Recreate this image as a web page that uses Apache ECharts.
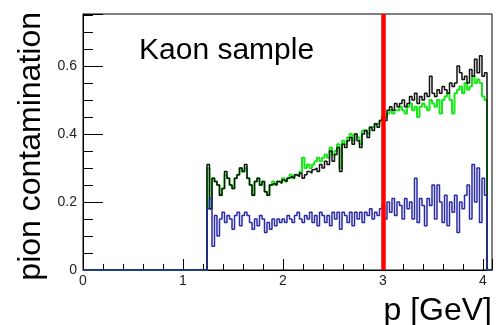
<!DOCTYPE html>
<html><head><meta charset="utf-8">
<script src="https://cdn.jsdelivr.net/npm/echarts@6.0.0/dist/echarts.min.js"></script>
<style>html,body{margin:0;padding:0;background:#fff}#c{width:496px;height:325px}</style>
</head><body><div id="c"></div>
<script>
// Histogram binning (momentum p in GeV)
const binStart = 1.24;
const binWidth = 0.025;
const xMax = 4.09;
const yMax = 0.753;
const cutMomentum = 3;

// black histogram
const blackValues = [
 0.31,0.18,0.27,0.26,0.25,0.22,0.24,0.29,0.27,0.25,
 0.24,0.27,0.28,0.30,0.29,0.31,0.27,0.25,0.22,0.26,
 0.27,0.25,0.26,0.23,0.22,0.25,0.255,0.25,0.26,0.255,
 0.265,0.26,0.27,0.275,0.27,0.28,0.275,0.285,0.27,0.28,
 0.29,0.285,0.295,0.30,0.29,0.31,0.30,0.32,0.31,0.35,
 0.32,0.34,0.36,0.29,0.37,0.36,0.38,0.39,0.37,0.40,
 0.38,0.36,0.40,0.41,0.39,0.42,0.41,0.43,0.42,0.44,
 0.45,0.44,0.47,0.48,0.47,0.49,0.48,0.49,0.50,0.48,
 0.49,0.51,0.50,0.52,0.49,0.51,0.50,0.52,0.51,0.57,
 0.52,0.51,0.53,0.52,0.54,0.53,0.52,0.55,0.54,0.55,
 0.60,0.58,0.56,0.57,0.55,0.59,0.57,0.62,0.58,0.63,
 0.57,0.58
];
// green histogram
const greenValues = [
 0.30,0.18,0.27,0.26,0.25,0.22,0.24,0.28,0.27,0.25,
 0.24,0.27,0.28,0.30,0.29,0.30,0.27,0.25,0.22,0.26,
 0.27,0.25,0.26,0.23,0.22,0.25,0.26,0.25,0.26,0.26,
 0.27,0.26,0.27,0.28,0.27,0.28,0.28,0.29,0.33,0.30,
 0.31,0.30,0.31,0.32,0.33,0.32,0.33,0.34,0.33,0.36,
 0.34,0.35,0.37,0.30,0.38,0.37,0.39,0.40,0.38,0.40,
 0.39,0.37,0.41,0.41,0.40,0.42,0.42,0.43,0.43,0.44,
 0.45,0.45,0.46,0.47,0.46,0.47,0.47,0.48,0.47,0.46,
 0.48,0.49,0.47,0.48,0.45,0.48,0.49,0.48,0.47,0.50,
 0.49,0.48,0.50,0.46,0.50,0.51,0.52,0.50,0.46,0.52,
 0.53,0.54,0.52,0.55,0.53,0.54,0.57,0.55,0.56,0.55,
 0.51,0.50
];
// blue histogram
const blueValues = [
 0.18,0.21,0.07,0.16,0.10,0.15,0.17,0.14,0.16,0.15,
 0.12,0.16,0.17,0.13,0.16,0.17,0.16,0.14,0.12,0.15,
 0.13,0.16,0.15,0.11,0.14,0.12,0.15,0.13,0.15,0.14,
 0.15,0.14,0.16,0.15,0.14,0.16,0.17,0.15,0.14,0.16,
 0.15,0.17,0.14,0.16,0.13,0.17,0.16,0.14,0.16,0.13,
 0.17,0.15,0.17,0.12,0.17,0.16,0.14,0.17,0.13,0.17,
 0.15,0.17,0.14,0.17,0.16,0.18,0.15,0.17,0.16,0.18,
 0.19,0.15,0.20,0.17,0.21,0.16,0.20,0.19,0.15,0.21,
 0.18,0.20,0.15,0.27,0.14,0.21,0.19,0.13,0.21,0.19,
 0.25,0.15,0.25,0.20,0.14,0.22,0.13,0.20,0.17,0.22,
 0.11,0.20,0.18,0.22,0.25,0.15,0.31,0.20,0.30,0.14,
 0.27,0.22
];
const xTickLabels = ['0','1','2','3','4'];
const yTickLabels = ['0','0.2','0.4','0.6'];

function stepPoints(vals) {
  const pts = [[0, 0], [binStart, 0]];
  vals.forEach((v, i) => {
    const lo = binStart + i * binWidth;
    pts.push([lo, v], [lo + binWidth, v]);
  });
  const end = binStart + vals.length * binWidth;
  pts.push([end, 0], [xMax, 0]);
  return pts;
}

const FONT = '"Liberation Sans", Arial, sans-serif';
const chart = echarts.init(document.getElementById('c'), null, {renderer: 'canvas'});
const isMult = (v, step) => Math.abs(v / step - Math.round(v / step)) < 1e-6;

chart.setOption({
  animation: false,
  backgroundColor: '#fff',
  grid: {left: 83, right: 4, top: 14, bottom: 55, show: true, borderColor: '#000', borderWidth: 1, backgroundColor: 'transparent'},
  xAxis: [
    {type: 'value', min: 0, max: xMax, interval: 0.2, position: 'bottom',
     axisLine: {lineStyle: {color: '#000', width: 1}},
     axisTick: {inside: true, length: 6, lineStyle: {color: '#000'}},
     axisLabel: {margin: 4, color: '#222', fontFamily: FONT, fontSize: 14,
       formatter: v => (isMult(v, 1) && Math.round(v) < xTickLabels.length) ? xTickLabels[Math.round(v)] : ''},
     splitLine: {show: false}},
    {type: 'value', min: 0, max: xMax, interval: 1, position: 'bottom',
     axisLine: {show: false},
     axisTick: {inside: true, length: 11, lineStyle: {color: '#000'}},
     axisLabel: {show: false}, splitLine: {show: false}}
  ],
  yAxis: [
    {type: 'value', min: 0, max: yMax, interval: 0.05, position: 'left',
     axisLine: {show: true, lineStyle: {color: '#000', width: 1}},
     axisTick: {show: true, inside: true, length: 10, lineStyle: {color: '#000'}},
     axisLabel: {margin: 6, color: '#222', fontFamily: FONT, fontSize: 14,
       formatter: v => (isMult(v, 0.2) && Math.round(v / 0.2) < yTickLabels.length) ? yTickLabels[Math.round(v / 0.2)] : ''},
     splitLine: {show: false}},
    {type: 'value', min: 0, max: yMax, interval: 0.2, position: 'left',
     axisLine: {show: false},
     axisTick: {show: true, inside: true, length: 20, lineStyle: {color: '#000'}},
     axisLabel: {show: false}, splitLine: {show: false}}
  ],
  series: [
    {type: 'line', name: 'green', data: stepPoints(greenValues), symbol: 'none', silent: true,
     lineStyle: {color: '#18e818', width: 2}, z: 2},
    {type: 'line', name: 'black', data: stepPoints(blackValues), symbol: 'none', silent: true,
     lineStyle: {color: '#111', width: 1.5}, z: 3},
    {type: 'line', name: 'blue', data: stepPoints(blueValues), symbol: 'none', silent: true,
     lineStyle: {color: '#2a2aa6', width: 1.5}, z: 4,
     markLine: {silent: true, symbol: ['none', 'none'], label: {show: false},
       lineStyle: {color: '#ff0000', width: 4.5, type: 'solid'},
       data: [{xAxis: cutMomentum}]}}
  ],
  graphic: [
    {type: 'text', left: 139, top: 36, style: {text: 'Kaon sample', fill: '#000', font: '30px ' + FONT}},
    {type: 'text', x: 31, y: 12, rotation: Math.PI / 2,
     style: {text: 'pion contamination', fill: '#000', font: '32px ' + FONT, textAlign: 'right', textVerticalAlign: 'middle'}},
    {type: 'text', x: 492, y: 311, style: {text: 'p [GeV]', fill: '#000', font: '32px ' + FONT, textAlign: 'right', textVerticalAlign: 'middle'}}
  ]
});
</script></body></html>
